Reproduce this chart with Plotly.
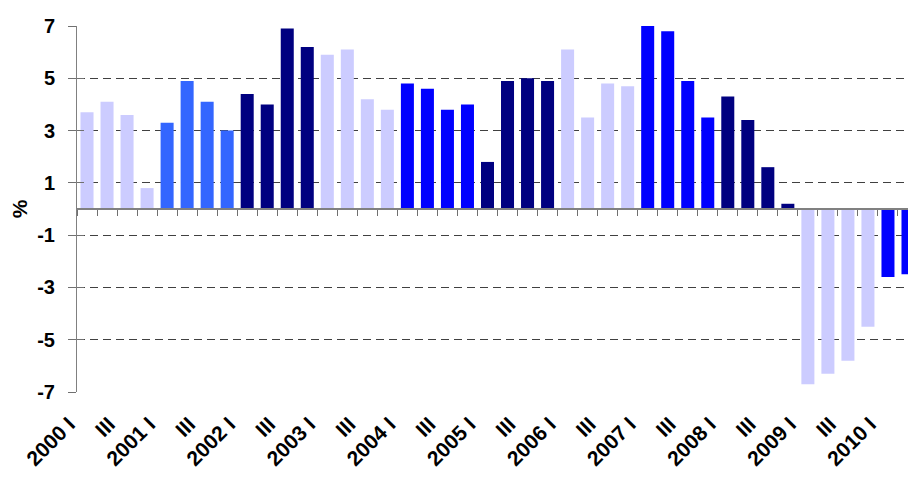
import plotly.graph_objects as go

# ---- data ----
years = ["2000", "2001", "2002", "2003", "2004", "2005", "2006", "2007", "2008", "2009", "2010"]
quarters = ["I", "II", "III", "IV"]
categories = [f"{y} {q}" for y in years for q in quarters][:42]
tick_labels = [
    (c if c.endswith(" I") else ("III" if c.endswith(" III") else ""))
    for c in categories
]
values = [
    3.7, 4.1, 3.6, 0.8,     # 2000
    3.3, 4.9, 4.1, 3.0,     # 2001
    4.4, 4.0, 6.9, 6.2,     # 2002
    5.9, 6.1, 4.2, 3.8,     # 2003
    4.8, 4.6, 3.8, 4.0,     # 2004
    1.8, 4.9, 5.0, 4.9,     # 2005
    6.1, 3.5, 4.8, 4.7,     # 2006
    7.0, 6.8, 4.9, 3.5,     # 2007
    4.3, 3.4, 1.6, 0.2,     # 2008
    -6.7, -6.3, -5.8, -4.5, # 2009
    -2.6, -2.5,             # 2010
]
y_ticks = [-7, -5, -3, -1, 1, 3, 5, 7]

# ---- style ----
year_colors = {
    "2000": "#CCCCFF", "2001": "#3366FF", "2002": "#000080",
    "2003": "#CCCCFF", "2004": "#0000FF", "2005": "#000080",
    "2006": "#CCCCFF", "2007": "#0000FF", "2008": "#000080",
    "2009": "#CCCCFF", "2010": "#0000FF",
}
colors = [year_colors[c.split(" ")[0]] for c in categories]
FONT = "Liberation Sans, Arial, sans-serif"
n = len(categories)
xmin, xmax = -0.5, n - 1.0

fig = go.Figure()
fig.add_trace(go.Bar(
    x=categories, y=values, marker=dict(color=colors, line=dict(width=0)),
    width=0.65, showlegend=False, hoverinfo="x+y",
))
# helper (empty) traces so the auxiliary tick axes are drawn
fig.add_trace(go.Scatter(x=[], y=[], xaxis="x2", yaxis="y", showlegend=False))
fig.add_trace(go.Scatter(x=[], y=[], xaxis="x", yaxis="y2", showlegend=False))
fig.add_trace(go.Scatter(x=[], y=[], xaxis="x", yaxis="y3", showlegend=False))

tick_axis = dict(range=[-7, 7], tickmode="array", tickvals=y_ticks,
                 showticklabels=False, tickcolor="#707070",
                 showgrid=False, showline=False, zeroline=False,
                 overlaying="y", anchor="x", side="left")

fig.update_layout(
    width=908, height=478,
    margin=dict(l=77, r=0, t=26, b=86, autoexpand=False),
    paper_bgcolor="white", plot_bgcolor="white",
    xaxis=dict(
        type="category", range=[xmin, xmax],
        tickmode="array", tickvals=categories, ticktext=tick_labels,
        tickangle=-45, ticks="", showline=False, showgrid=False, zeroline=False,
        ticklabelstandoff=15, ticklabelshift=-18,
        tickfont=dict(family=FONT, size=21, color="black", weight="bold"),
    ),
    xaxis2=dict(
        overlaying="x", anchor="free", position=0.5, side="bottom",
        range=[xmin, xmax], tickmode="array",
        tickvals=[i - 0.5 for i in range(n + 1)],
        showticklabels=False, ticks="outside", ticklen=6, tickwidth=1,
        tickcolor="#707070", showline=True, linecolor="#808080", linewidth=2,
        showgrid=False, zeroline=False,
    ),
    yaxis=dict(
        range=[-7, 7], tickmode="array", tickvals=y_ticks,
        ticktext=[str(v) for v in y_ticks],
        showline=True, linecolor="#808080", linewidth=1,
        ticks="", ticklabelstandoff=17,
        showgrid=True, gridcolor="#404040", gridwidth=1, griddash="8px,5px",
        zeroline=False,
        tickfont=dict(family=FONT, size=20, color="black", weight="bold"),
        title=dict(text="%", standoff=3,
                   font=dict(family=FONT, size=21, color="black", weight="bold")),
    ),
    yaxis2=dict(tick_axis, ticks="outside", ticklen=8),
    yaxis3=dict(tick_axis, ticks="inside", ticklen=7),
)

fig.write_html(
    "out.html",
    config={"displayModeBar": False},
    post_script="document.body.style.margin='0px';"
                "document.documentElement.style.overflow='hidden';",
)
